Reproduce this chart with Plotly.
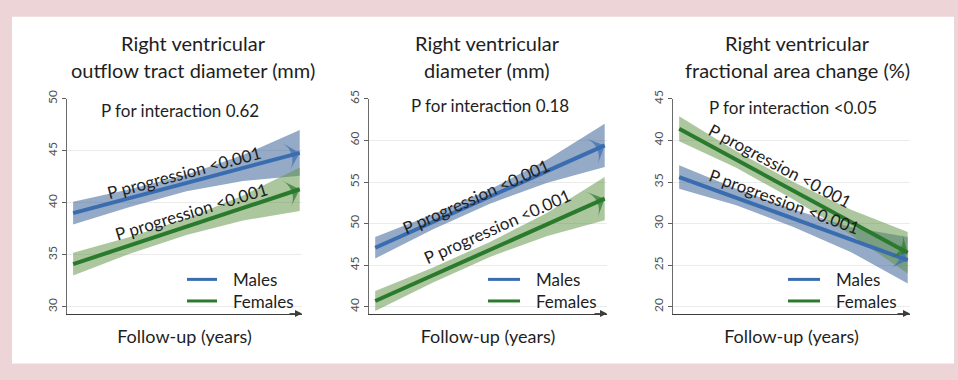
import plotly.graph_objects as go

# ---------------- data ----------------
titles = [
    ["Right ventricular", "outflow tract diameter (mm)"],
    ["Right ventricular", "diameter (mm)"],
    ["Right ventricular", "fractional area change (%)"],
]
interaction_text = ["P for interaction 0.62", "P for interaction 0.18", "P for interaction <0.05"]
progression_text = "P progression <0.001"
series_names = ["Males", "Females"]
x_title = "Follow-up (years)"

y_ticks = [
    [30, 35, 40, 45, 50],
    [40, 45, 50, 55, 60, 65],
    [20, 25, 30, 35, 40, 45],
]

# follow-up (normalised) positions
line_x = [0, 1]
band_x = [0, 0.25, 0.5, 0.75, 1]

# panel 1: RVOT diameter
p1_male_line = [39.0, 44.8]
p1_male_upper = [40.1, 41.3, 42.7, 44.6, 47.0]
p1_male_lower = [37.9, 39.6, 41.1, 42.1, 42.6]
p1_female_line = [34.1, 41.3]
p1_female_upper = [35.2, 36.7, 38.5, 40.7, 43.4]
p1_female_lower = [33.0, 35.1, 36.9, 38.3, 39.2]

# panel 2: RV diameter
p2_male_line = [47.1, 59.4]
p2_male_upper = [48.4, 51.1, 54.1, 57.7, 62.0]
p2_male_lower = [45.8, 49.3, 52.4, 54.9, 56.8]
p2_female_line = [40.7, 53.0]
p2_female_upper = [41.9, 44.7, 47.8, 51.3, 55.6]
p2_female_lower = [39.5, 42.9, 46.0, 48.5, 50.4]

# panel 3: RV fractional area change
p3_male_line = [35.6, 25.6]
p3_male_upper = [37.0, 34.2, 31.7, 29.6, 28.4]
p3_male_lower = [34.2, 32.2, 29.6, 26.6, 22.8]
p3_female_line = [41.4, 26.5]
p3_female_upper = [42.9, 38.7, 35.0, 31.7, 29.0]
p3_female_lower = [39.9, 36.7, 32.9, 28.7, 24.0]

panels = [
    dict(male=(p1_male_line, p1_male_upper, p1_male_lower),
         female=(p1_female_line, p1_female_upper, p1_female_lower)),
    dict(male=(p2_male_line, p2_male_upper, p2_male_lower),
         female=(p2_female_line, p2_female_upper, p2_female_lower)),
    dict(male=(p3_male_line, p3_male_upper, p3_male_lower),
         female=(p3_female_line, p3_female_upper, p3_female_lower)),
]

# ---------------- style ----------------
W, H = 958, 380
FONT = "Lato"
PINK = "#edd4d6"
BLUE_LINE = "#3a6db0"
BLUE_BAND = "rgba(60,100,152,0.55)"
GREEN_LINE = "#2a7a2e"
GREEN_BAND = "rgba(95,148,68,0.52)"
TXT = "#1e1e1e"
SERIES_COLORS = [BLUE_LINE, GREEN_LINE]

x_dom_px = [(67, 302), (369, 607), (673, 910)]
y_dom_px = (92, 312)  # top, bottom (px from top)
y_ranges = [[29.34, 50], [39.18, 65], [19.18, 45]]
x_range = [-0.027, 1.01]

# label positions (data coords) and angles
interaction_pos = [(0.47, 48.9), (0.50, 64.15), (0.50, 43.95)]
prog_male = [(0.49, 42.9, -15), (0.44, 53.2, -24), (0.46, 32.6, 20)]
prog_female = [(0.52, 39.2, -17), (0.53, 49.7, -24), (0.44, 37.0, 28)]
title_cx = [193, 487, 797]
title_rows_px = [35, 62]
legend_sample_px = [(187, 217), (488, 520), (788, 820)]
LEG_FS = 17
LEG_CENTER = 288


def px2x(p):
    return p / W


def px2y(p):
    return 1 - p / H


fig = go.Figure()

for i, pan in enumerate(panels):
    n = "" if i == 0 else str(i + 1)
    xa, ya = "x" + n, "y" + n
    for key, bcol in [("male", BLUE_BAND), ("female", GREEN_BAND)]:
        line, up, lo = pan[key]
        fig.add_trace(go.Scatter(
            x=band_x + band_x[::-1], y=up + lo[::-1], fill="toself", fillcolor=bcol,
            line=dict(width=0), mode="lines", hoverinfo="skip", showlegend=False,
            xaxis=xa, yaxis=ya))
    for key, lcol, name in [("male", BLUE_LINE, series_names[0]),
                            ("female", GREEN_LINE, series_names[1])]:
        line, up, lo = pan[key]
        fig.add_trace(go.Scatter(
            x=line_x, y=line, mode="lines", line=dict(color=lcol, width=4),
            name=name, showlegend=False, xaxis=xa, yaxis=ya))
        fig.add_trace(go.Scatter(
            x=line_x, y=line, mode="markers",
            marker=dict(symbol="arrow-wide", angleref="previous", size=[0, 20], color=lcol,
                        line=dict(width=0)),
            showlegend=False, hoverinfo="skip", xaxis=xa, yaxis=ya))

layout = dict(
    width=W, height=H, margin=dict(l=0, r=0, t=0, b=0),
    paper_bgcolor=PINK, plot_bgcolor="rgba(0,0,0,0)",
    font=dict(family=FONT, color=TXT),
    showlegend=False,
    shapes=[dict(type="rect", xref="paper", yref="paper",
                 x0=px2x(12), x1=px2x(954), y0=px2y(363), y1=px2y(8),
                 fillcolor="white", line=dict(width=0), layer="below")],
    annotations=[],
)

row_gap = LEG_FS * 1.3
leg_rows = [LEG_CENTER - row_gap / 2, LEG_CENTER + row_gap / 2]

for i in range(3):
    n = "" if i == 0 else str(i + 1)
    xd = [px2x(x_dom_px[i][0]), px2x(x_dom_px[i][1])]
    yd = [px2y(y_dom_px[1]), px2y(y_dom_px[0])]
    layout["xaxis" + n] = dict(
        domain=xd, range=x_range, anchor="y" + n, showgrid=False, zeroline=False,
        showticklabels=False, ticks="", showline=True, linecolor="#3c3c3c", linewidth=1,
        title=dict(text=x_title, font=dict(size=18, color=TXT), standoff=16))
    layout["yaxis" + n] = dict(
        domain=yd, range=y_ranges[i], anchor="x" + n, tickvals=y_ticks[i],
        tickangle=-90, tickfont=dict(size=12, color="#505050"),
        ticks="outside", ticklen=4, tickcolor="#606060",
        showgrid=True, gridcolor="#ebebeb", gridwidth=1, zeroline=False,
        showline=True, linecolor="#6a6a6a", linewidth=1)
    # x-axis arrowhead
    layout["annotations"].append(dict(
        xref="x" + n + " domain", yref="y" + n + " domain", x=1, y=0,
        ax=-14, ay=0, axref="pixel", ayref="pixel", text="", showarrow=True,
        arrowhead=2, arrowsize=1.4, arrowwidth=1, arrowcolor="#3c3c3c"))
    # titles
    for j, ty in enumerate(title_rows_px):
        layout["annotations"].append(dict(
            xref="paper", yref="paper", x=px2x(title_cx[i]), y=px2y(ty),
            text=titles[i][j], showarrow=False, xanchor="center", yanchor="middle",
            font=dict(size=20, color=TXT)))
    # interaction text
    ix, iy = interaction_pos[i]
    layout["annotations"].append(dict(
        xref="x" + n, yref="y" + n, x=ix, y=iy, text=interaction_text[i],
        showarrow=False, font=dict(size=17, color=TXT)))
    for (px_, py_, ang) in [prog_male[i], prog_female[i]]:
        layout["annotations"].append(dict(
            xref="x" + n, yref="y" + n, x=px_, y=py_, text=progression_text,
            textangle=ang, showarrow=False, font=dict(size=17, color=TXT)))
    # legend (swatches + one two-line label)
    sx0, sx1 = legend_sample_px[i]
    for k in range(len(series_names)):
        ry = leg_rows[k]
        layout["shapes"].append(dict(
            type="line", xref="paper", yref="paper",
            x0=px2x(sx0), x1=px2x(sx1), y0=px2y(ry), y1=px2y(ry),
            line=dict(color=SERIES_COLORS[k], width=3)))
    layout["annotations"].append(dict(
        xref="paper", yref="paper", x=px2x(sx1 + 15), y=px2y(LEG_CENTER),
        text="<br>".join(series_names), align="left",
        showarrow=False, xanchor="left", yanchor="middle",
        borderpad=0, font=dict(size=LEG_FS, color=TXT)))

fig.update_layout(**layout)
fig.write_html("out.html", config={"displayModeBar": False},
               post_script="document.body.style.margin='0px';")
